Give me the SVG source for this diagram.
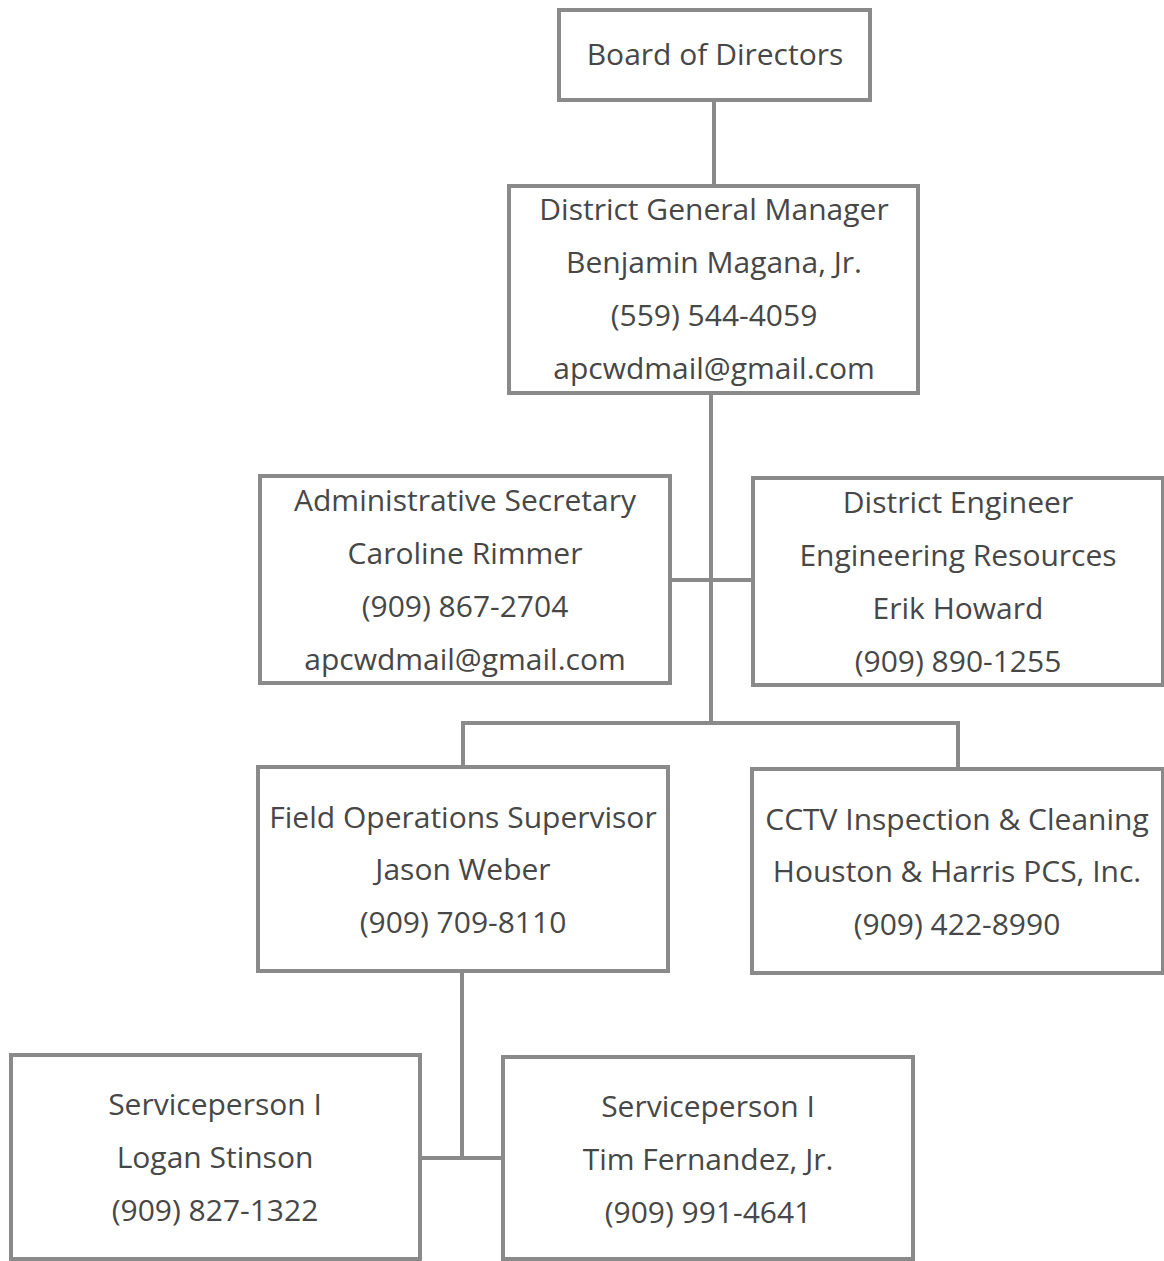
<svg xmlns="http://www.w3.org/2000/svg" width="1164" height="1261" viewBox="0 0 1164 1261">
<style>
.box{fill:#fff;stroke:#8a8a8a;stroke-width:4}
.t{font-family:"Open Sans","Noto Sans","Liberation Sans",sans-serif;font-size:30px;fill:#474747;text-anchor:middle;dominant-baseline:central}
.c{fill:none;stroke:#8a8a8a;stroke-width:4}
</style>
<rect width="1164" height="1261" fill="#fff"/>
<g id="connectors">
<path class="c" d="M714 100V186"/>
<path class="c" d="M711 393V723"/>
<path class="c" d="M670 580H753"/>
<path class="c" d="M463 767V723H958V769"/>
<path class="c" d="M462 971V1158"/>
<path class="c" d="M420 1158H503"/>
</g>
<g id="board">
<rect class="box" x="559" y="10" width="311" height="90"/>
<text class="t" x="715" y="53">Board of Directors</text>
</g>
<g id="dgm">
<rect class="box" x="509" y="186" width="409" height="207"/>
<text class="t" x="714" y="208">District General Manager</text>
<text class="t" x="714" y="261">Benjamin Magana, Jr.</text>
<text class="t" x="714" y="314">(559) 544-4059</text>
<text class="t" x="714" y="367">apcwdmail@gmail.com</text>
</g>
<g id="admin">
<rect class="box" x="260" y="476" width="410" height="207"/>
<text class="t" x="465" y="499">Administrative Secretary</text>
<text class="t" x="465" y="552">Caroline Rimmer</text>
<text class="t" x="465" y="605">(909) 867-2704</text>
<text class="t" x="465" y="658">apcwdmail@gmail.com</text>
</g>
<g id="engineer">
<rect class="box" x="753" y="478" width="410" height="207"/>
<text class="t" x="958" y="501">District Engineer</text>
<text class="t" x="958" y="554">Engineering Resources</text>
<text class="t" x="958" y="607">Erik Howard</text>
<text class="t" x="958" y="660">(909) 890-1255</text>
</g>
<g id="fieldops">
<rect class="box" x="258" y="767" width="410" height="204"/>
<text class="t" x="463" y="816">Field Operations Supervisor</text>
<text class="t" x="463" y="868">Jason Weber</text>
<text class="t" x="463" y="921">(909) 709-8110</text>
</g>
<g id="cctv">
<rect class="box" x="752" y="769" width="411" height="204"/>
<text class="t" x="957" y="818">CCTV Inspection &amp; Cleaning</text>
<text class="t" x="957" y="870">Houston &amp; Harris PCS, Inc.</text>
<text class="t" x="957" y="923">(909) 422-8990</text>
</g>
<g id="svc1">
<rect class="box" x="11" y="1055" width="409" height="204"/>
<text class="t" x="215" y="1103">Serviceperson I</text>
<text class="t" x="215" y="1156">Logan Stinson</text>
<text class="t" x="215" y="1209">(909) 827-1322</text>
</g>
<g id="svc2">
<rect class="box" x="503" y="1057" width="410" height="202"/>
<text class="t" x="708" y="1105">Serviceperson I</text>
<text class="t" x="708" y="1158">Tim Fernandez, Jr.</text>
<text class="t" x="708" y="1211">(909) 991-4641</text>
</g>
</svg>
